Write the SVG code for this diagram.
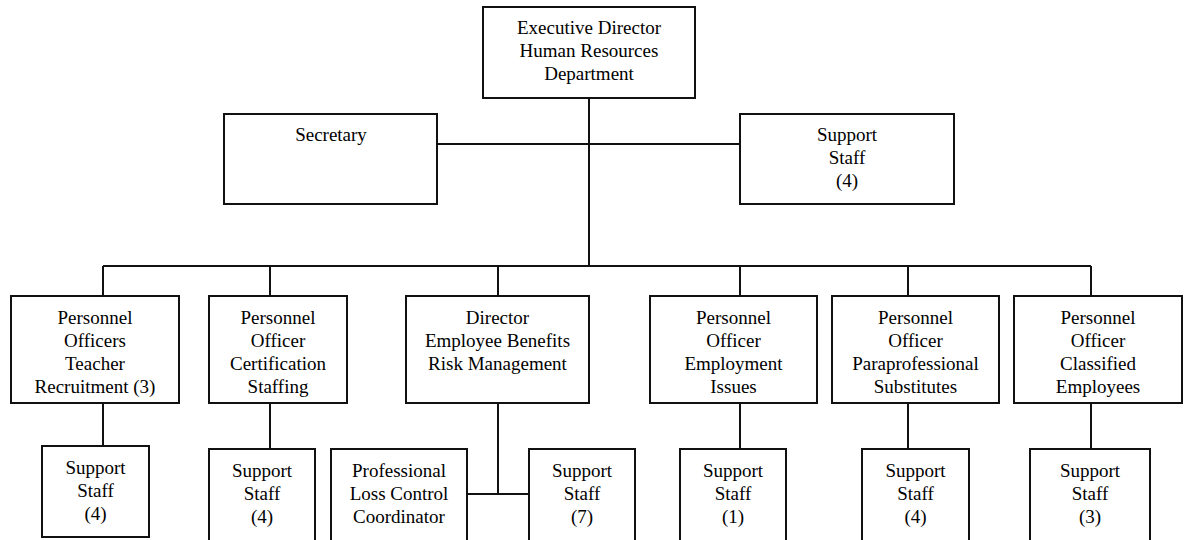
<svg xmlns="http://www.w3.org/2000/svg" width="1187" height="540" viewBox="0 0 1187 540">
<style>
.box{fill:#fff;stroke:#111;stroke-width:2}
.ln{stroke:#111;stroke-width:2;fill:none}
text{font-family:"Liberation Serif","Times New Roman",serif;font-size:19px;fill:#000;text-anchor:middle}
</style>
<rect width="1187" height="540" fill="#fff"/>
<g id="connectors" class="ln">
<line x1="589" y1="98" x2="589" y2="266"/>
<line x1="437" y1="144" x2="740" y2="144"/>
<line x1="103" y1="266" x2="1091" y2="266"/>
<line x1="103" y1="266" x2="103" y2="296"/>
<line x1="270" y1="266" x2="270" y2="296"/>
<line x1="498" y1="266" x2="498" y2="296"/>
<line x1="740" y1="266" x2="740" y2="296"/>
<line x1="908" y1="266" x2="908" y2="296"/>
<line x1="1091" y1="266" x2="1091" y2="296"/>
<line x1="103" y1="403" x2="103" y2="446"/>
<line x1="270" y1="403" x2="270" y2="449"/>
<line x1="498" y1="403" x2="498" y2="494"/>
<line x1="467" y1="494" x2="529" y2="494"/>
<line x1="740" y1="403" x2="740" y2="449"/>
<line x1="908" y1="403" x2="908" y2="449"/>
<line x1="1091" y1="403" x2="1091" y2="449"/>
</g>
<g id="exec"><rect class="box" x="483" y="7" width="212" height="91"/><text x="589" y="34">Executive Director</text><text x="589" y="57">Human Resources</text><text x="589" y="80">Department</text></g>
<g id="secretary"><rect class="box" x="224" y="114" width="213" height="90"/><text x="331" y="141">Secretary</text></g>
<g id="support-top"><rect class="box" x="740" y="114" width="214" height="90"/><text x="847" y="141">Support</text><text x="847" y="164">Staff</text><text x="847" y="187">(4)</text></g>
<g id="teacher"><rect class="box" x="11" y="296" width="168" height="107"/><text x="95" y="324">Personnel</text><text x="95" y="347">Officers</text><text x="95" y="370">Teacher</text><text x="95" y="393">Recruitment (3)</text></g>
<g id="cert"><rect class="box" x="209" y="296" width="138" height="107"/><text x="278" y="324">Personnel</text><text x="278" y="347">Officer</text><text x="278" y="370">Certification</text><text x="278" y="393">Staffing</text></g>
<g id="director"><rect class="box" x="406" y="296" width="183" height="107"/><text x="497.5" y="324">Director</text><text x="497.5" y="347">Employee Benefits</text><text x="497.5" y="370">Risk Management</text></g>
<g id="employment"><rect class="box" x="650" y="296" width="167" height="107"/><text x="733.5" y="324">Personnel</text><text x="733.5" y="347">Officer</text><text x="733.5" y="370">Employment</text><text x="733.5" y="393">Issues</text></g>
<g id="parapro"><rect class="box" x="832" y="296" width="167" height="107"/><text x="915.5" y="324">Personnel</text><text x="915.5" y="347">Officer</text><text x="915.5" y="370">Paraprofessional</text><text x="915.5" y="393">Substitutes</text></g>
<g id="classified"><rect class="box" x="1014" y="296" width="168" height="107"/><text x="1098" y="324">Personnel</text><text x="1098" y="347">Officer</text><text x="1098" y="370">Classified</text><text x="1098" y="393">Employees</text></g>
<g id="ss-teacher"><rect class="box" x="42" y="446" width="107" height="91"/><text x="95.5" y="474">Support</text><text x="95.5" y="497">Staff</text><text x="95.5" y="520">(4)</text></g>
<g id="ss-cert"><rect class="box" x="209" y="449" width="106" height="93"/><text x="262" y="477">Support</text><text x="262" y="500">Staff</text><text x="262" y="523">(4)</text></g>
<g id="loss-control"><rect class="box" x="331" y="449" width="136" height="93"/><text x="399" y="477">Professional</text><text x="399" y="500">Loss Control</text><text x="399" y="523">Coordinator</text></g>
<g id="ss-benefits"><rect class="box" x="529" y="449" width="106" height="93"/><text x="582" y="477">Support</text><text x="582" y="500">Staff</text><text x="582" y="523">(7)</text></g>
<g id="ss-employment"><rect class="box" x="680" y="449" width="106" height="93"/><text x="733" y="477">Support</text><text x="733" y="500">Staff</text><text x="733" y="523">(1)</text></g>
<g id="ss-parapro"><rect class="box" x="862" y="449" width="107" height="93"/><text x="915.5" y="477">Support</text><text x="915.5" y="500">Staff</text><text x="915.5" y="523">(4)</text></g>
<g id="ss-classified"><rect class="box" x="1030" y="449" width="120" height="93"/><text x="1090" y="477">Support</text><text x="1090" y="500">Staff</text><text x="1090" y="523">(3)</text></g>
</svg>
